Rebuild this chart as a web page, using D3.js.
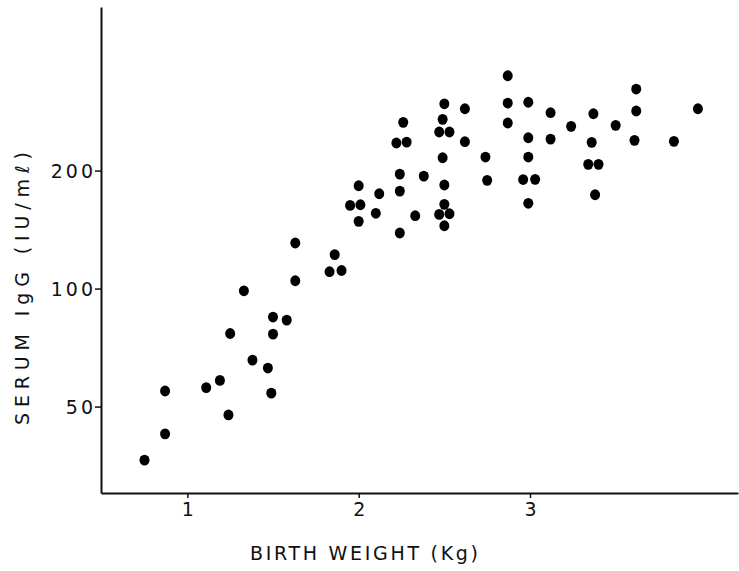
<!DOCTYPE html>
<html>
<head>
<meta charset="utf-8">
<script src="https://cdn.jsdelivr.net/npm/d3@7"></script>
<style>
  body { margin: 0; background: #fff; }
  svg { display: block; }
  text { font-family: "DejaVu Sans", sans-serif; fill: #111; }
</style>
</head>
<body>
<div id="chart"></div>
<script>
// birth weight (kg)
var weights = [
  0.75, 0.87, 0.87, 1.24, 1.11, 1.19, 1.25, 1.33, 1.38, 1.47,
  1.49, 1.50, 1.50, 1.58, 1.63, 1.63, 1.83, 1.90, 1.86, 2.87,
  2.50, 2.62, 2.87, 2.99, 2.49, 2.87, 2.26, 2.47, 2.53, 2.22,
  2.28, 2.62, 2.99, 2.49, 2.74, 2.99, 2.75, 2.96, 3.03, 2.24,
  2.38, 2.00, 2.12, 2.24, 2.50, 1.95, 2.01, 2.00, 2.10, 2.33,
  2.50, 2.47, 2.53, 2.50, 2.24, 2.99, 3.12, 3.12, 3.24, 3.37,
  3.36, 3.34, 3.40, 3.38, 3.50, 3.62, 3.62, 3.61, 3.84, 3.98
];
// serum IgG (IU/ml)
var igg = [
  36.5, 42.6, 54.8, 47.6, 55.9, 58.3, 76.8, 98.7, 65.7, 62.7,
  54.1, 84.6, 76.5, 83.1, 104.7, 130.7, 110.4, 111.2, 122.1, 349,
  296, 287.5, 297.3, 298.7, 270.2, 264.4, 265.5, 250.8, 250.8, 235.1,
  236.4, 236.9, 242.5, 215.6, 216.5, 216.5, 188.8, 189.7, 189.9, 195.9,
  193.6, 182.9, 174.5, 177.3, 183.7, 163.0, 163.6, 148.4, 155.6, 153.4,
  164.0, 154.6, 155.2, 144.6, 138.6, 165.0, 280.9, 240.6, 259.3, 279.2,
  236.0, 207.4, 207.4, 173.5, 260.8, 322.8, 283.7, 238.8, 237.4, 287.5
];
var xTicks = [1, 2, 3];
var yTicks = [50, 100, 200];

var width = 739, height = 571;
var svg = d3.select('#chart').append('svg')
  .attr('width', width)
  .attr('height', height);

var x = d3.scaleLinear().domain([0.496, 4.214]).range([101, 738]);
var y = d3.scaleLog().domain([30.1, 522.6]).range([493, 7]);

// x axis
var gx = svg.append('g')
  .attr('transform', 'translate(0,493)')
  .call(d3.axisBottom(x).tickValues(xTicks).tickSize(5).tickSizeOuter(0)
    .tickFormat(d3.format('d')));
gx.select('.domain').attr('stroke', '#111').attr('stroke-width', 2);
gx.selectAll('.tick line').attr('stroke', '#111').attr('stroke-width', 1.5);
gx.selectAll('.tick text')
  .attr('y', 10)
  .style('font-size', '19px')
  .style('font-family', '"DejaVu Sans", sans-serif')
  .attr('fill', '#111');

// y axis
var gy = svg.append('g')
  .attr('transform', 'translate(101,0)')
  .call(d3.axisLeft(y).tickValues(yTicks).tickSize(6).tickSizeOuter(0)
    .tickFormat(d3.format('d')));
gy.select('.domain').attr('stroke', '#111').attr('stroke-width', 2);
gy.selectAll('.tick line').attr('stroke', '#111').attr('stroke-width', 1.5);
gy.selectAll('.tick text')
  .attr('x', -5)
  .attr('dy', '0.36em')
  .style('font-size', '19px')
  .style('letter-spacing', '3px')
  .style('font-family', '"DejaVu Sans", sans-serif')
  .attr('fill', '#111');

// points
svg.append('g').selectAll('ellipse')
  .data(weights)
  .join('ellipse')
  .attr('cx', function(d) { return x(d); })
  .attr('cy', function(d, i) { return y(igg[i]); })
  .attr('rx', 5)
  .attr('ry', 5.4)
  .attr('fill', '#000');

// axis titles
svg.append('text')
  .attr('x', 250)
  .attr('y', 560)
  .attr('textLength', 228)
  .attr('lengthAdjust', 'spacing')
  .style('font-size', '19px')
  .text('BIRTH WEIGHT (Kg)');

svg.append('text')
  .attr('transform', 'translate(29,425) rotate(-90)')
  .attr('textLength', 273)
  .attr('lengthAdjust', 'spacing')
  .style('font-size', '19px')
  .text('SERUM IgG (IU/mℓ)');
</script>
</body>
</html>
